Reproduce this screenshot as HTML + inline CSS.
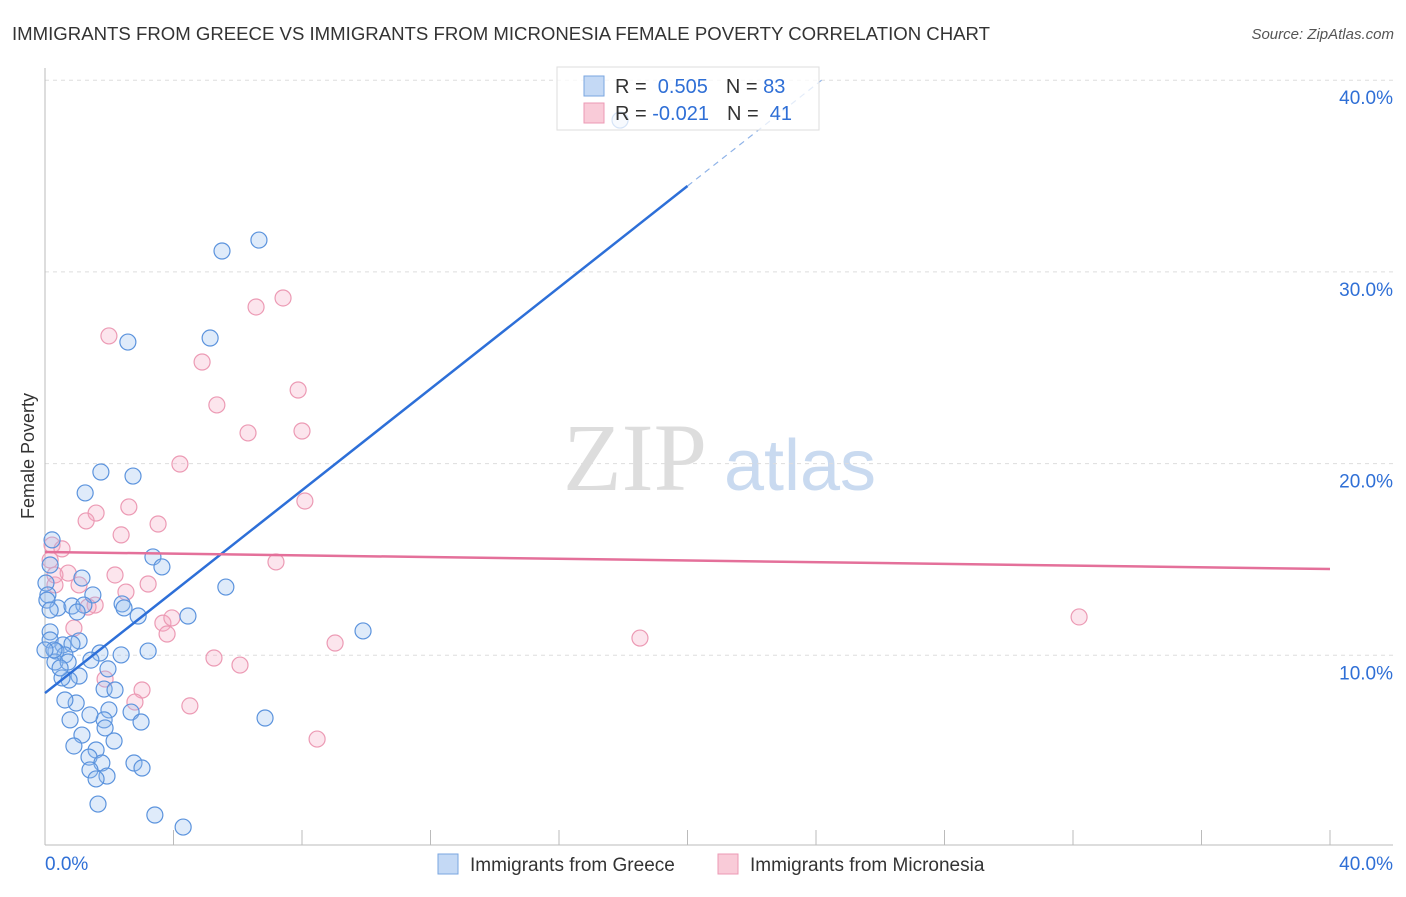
<!DOCTYPE html>
<html><head><meta charset="utf-8"><style>
body{margin:0;background:#fff;font-family:"Liberation Sans",sans-serif}
</style></head><body>
<svg width="1406" height="892" xmlns="http://www.w3.org/2000/svg">
<text x="12" y="40" font-size="18.6" fill="#333">IMMIGRANTS FROM GREECE VS IMMIGRANTS FROM MICRONESIA FEMALE POVERTY CORRELATION CHART</text>
<text x="1394" y="39" font-size="15" fill="#555" font-style="italic" text-anchor="end">Source: ZipAtlas.com</text>
<text x="34" y="456" font-size="18" fill="#333" text-anchor="middle" transform="rotate(-90 34 456)">Female Poverty</text>
<g><text x="635" y="490" font-size="96" fill="#ddd" font-family="Liberation Serif" text-anchor="middle">ZIP</text><text x="800" y="490" font-size="72" fill="#c9daf0" text-anchor="middle">atlas</text></g>
<g id="grid"></g><g id="axes"></g><g id="marks"></g>
<g>
<rect x="557" y="67" width="262" height="63" fill="rgba(255,255,255,0.75)" stroke="#ddd"/>
<rect x="584" y="76" width="20" height="20" fill="#c4d9f5" stroke="#7aa6e0"/>
<rect x="584" y="103" width="20" height="20" fill="#f9cbd8" stroke="#ec9ab4"/>
<text x="615" y="93" font-size="20" fill="#333">R = <tspan fill="#2f6fd6">&#160;0.505</tspan><tspan dx="18">N = </tspan><tspan fill="#2f6fd6">83</tspan></text>
<text x="615" y="120" font-size="20" fill="#333">R = <tspan fill="#2f6fd6">-0.021</tspan><tspan dx="18">N = </tspan><tspan fill="#2f6fd6">&#160;41</tspan></text>
</g>
<g>
<rect x="438" y="854" width="20" height="20" fill="#c4d9f5" stroke="#7aa6e0"/>
<text x="470" y="871" font-size="19" fill="#333">Immigrants from Greece</text>
<rect x="718" y="854" width="20" height="20" fill="#f9cbd8" stroke="#ec9ab4"/>
<text x="750" y="871" font-size="19" fill="#333">Immigrants from Micronesia</text>
</g>
</svg>
<script>
const yTicks=[10,20,30,40];
const yTickLabels=["10.0%","20.0%","30.0%","40.0%"];
const xTickLabels=["0.0%","40.0%"];
const greeceX=[5.51,6.66,5.14,2.58,1.74,2.74,1.25,0.22,3.36,3.64,0.16,0.03,1.15,5.63,0.09,1.49,2.40,0.40,0.84,1.21,2.46,2.90,4.45,1.00,9.90,0.16,0.16,1.06,0.56,0.84,3.21,2.37,1.71,0.34,0.62,0.31,0.72,1.43,1.96,1.06,0.75,0.53,1.84,2.18,0.97,0.62,1.99,0.78,2.68,1.84,2.99,6.85,1.40,1.15,1.87,0.90,2.15,1.59,1.37,2.77,1.77,1.40,3.02,1.93,1.59,1.65,3.42,4.30,17.90,0.06,0.16,0.28,0.47,0];
const greeceY=[31.09,31.66,26.55,26.34,19.56,19.35,18.47,16.02,15.13,14.61,14.71,13.77,14.03,13.56,13.15,13.15,12.68,12.47,12.57,12.62,12.47,12.05,12.05,12.26,11.27,11.22,10.80,10.75,10.54,10.59,10.22,10.02,10.12,10.22,10.02,9.65,9.65,9.75,9.29,8.92,8.71,8.82,8.24,8.19,7.51,7.67,7.15,6.63,7.04,6.63,6.52,6.73,6.89,5.84,6.21,5.27,5.53,5.06,4.69,4.38,4.38,4.02,4.12,3.70,3.55,2.24,1.67,1.04,37.92,12.88,12.36,10.28,9.34,10.28];
const micronX=[1.99,6.57,7.41,4.89,5.35,7.88,6.32,8.00,4.20,8.09,2.61,1.59,1.28,3.52,2.37,0.22,0.53,7.19,2.18,0.72,3.21,1.06,2.52,1.56,1.34,0.31,3.67,3.95,3.80,0.90,9.03,18.52,32.19,5.26,6.07,3.02,1.87,2.80,4.51,8.47,0.16,0.31];
const micronY=[26.66,28.17,28.64,25.30,23.06,23.84,21.60,21.70,19.98,18.05,17.74,17.42,17.01,16.85,16.28,15.75,15.55,14.87,14.19,14.29,13.72,13.67,13.30,12.62,12.52,13.67,11.68,11.95,11.11,11.42,10.64,10.90,12.00,9.86,9.49,8.19,8.76,7.56,7.36,5.63,14.97,14.19];
const greeceTrend=[8.03,1.3225];
const micronTrend=[15.39,-0.0222];
const NS="http://www.w3.org/2000/svg";
const X=v=>45+v*(1285/40), Y=v=>847-v*19.17;
function mk(p,t,a){const e=document.createElementNS(NS,t);for(const k in a)e.setAttribute(k,a[k]);p.appendChild(e);return e;}
const grid=document.getElementById('grid'),axes=document.getElementById('axes'),marks=document.getElementById('marks');
yTicks.forEach((t,i)=>{
 const l=mk(grid,'line',{x1:45,x2:1393,y1:Y(t),y2:Y(t),stroke:'#ddd','stroke-dasharray':'4 4'});
 
 
 const tx=mk(axes,'text',{x:1393,y:Y(t)+24,'font-size':19,fill:'#2f6fd6','text-anchor':'end'});tx.textContent=yTickLabels[i];
 
 
});
mk(axes,'line',{x1:45,x2:45,y1:68,y2:845,stroke:'#bbb'});
mk(axes,'line',{x1:45,x2:1393,y1:845,y2:845,stroke:'#bbb'});
for(let i=0;i<=10;i++){const tk=mk(axes,'line',{x1:X(i*4),x2:X(i*4),y1:830,y2:845,stroke:'#bbb'});
 
 }
const xl0=mk(axes,'text',{x:45,y:870,'font-size':19,fill:'#2f6fd6'});xl0.textContent=xTickLabels[0];


const xl1=mk(axes,'text',{x:1393,y:870,'font-size':19,fill:'#2f6fd6','text-anchor':'end'});xl1.textContent=xTickLabels[1];


micronX.forEach((v,i)=>{const c=mk(marks,'circle',{cx:X(v),cy:Y(micronY[i]),r:8,fill:'rgba(245,170,195,0.3)',stroke:'#ec9ab4','stroke-width':1.2});
 
 });
greeceX.forEach((v,i)=>{const c=mk(marks,'circle',{cx:X(v),cy:Y(greeceY[i]),r:8,fill:'rgba(150,190,240,0.3)',stroke:'#5b93dd','stroke-width':1.2});
 
 });
const gEnd=(40-greeceTrend[0])/greeceTrend[1];
const g1=mk(marks,'line',{x1:X(0),y1:Y(greeceTrend[0]),x2:X(20),y2:Y(greeceTrend[0]+20*greeceTrend[1]),stroke:'#2d6fd8','stroke-width':2.5});


const g2=mk(marks,'line',{x1:X(20),y1:Y(greeceTrend[0]+20*greeceTrend[1]),x2:X(gEnd),y2:Y(40),stroke:'#8fb3e8','stroke-width':1.2,'stroke-dasharray':'6 5'});


const m1=mk(marks,'line',{x1:X(0),y1:Y(micronTrend[0]),x2:X(40),y2:Y(micronTrend[0]+40*micronTrend[1]),stroke:'#e4709a','stroke-width':2.5});


</script>
</body></html>
